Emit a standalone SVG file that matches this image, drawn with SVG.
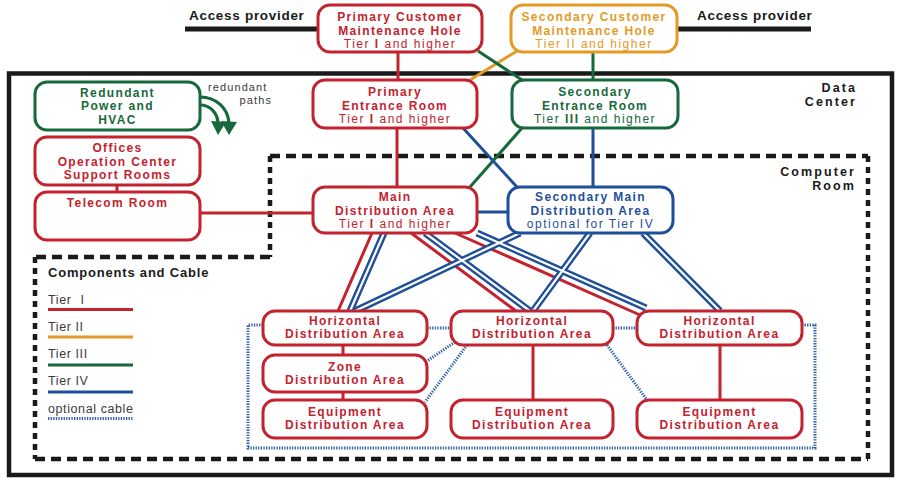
<svg xmlns="http://www.w3.org/2000/svg" width="902" height="491" viewBox="0 0 902 491">
<style>
.n rect{fill:#fff;stroke-width:3}
.r rect{stroke:#c3222f}.r text{fill:#c3222f}
.o rect{stroke:#e49a26}.o text{fill:#e49a26}
.g rect{stroke:#17693c}.g text{fill:#17693c}
.b rect{stroke:#1f4f98}.b text{fill:#1f4f98}
text{font-family:"Liberation Sans",Arial,sans-serif}
.t{font-size:12px;font-weight:bold;letter-spacing:1.35px;text-anchor:middle}
.s{font-size:12px;letter-spacing:1.5px;text-anchor:middle}
.k{font-size:13.5px;font-weight:bold;letter-spacing:0.7px;fill:#1a1a1a}
.lab{font-size:12.5px;font-weight:bold;letter-spacing:2.1px;fill:#1a1a1a;text-anchor:end}
.lg{font-size:12.5px;letter-spacing:0.6px;fill:#3a3a3a}
.sm{font-size:11px;letter-spacing:1.1px;fill:#3a3a3a}
.c1{stroke:#c3222f;stroke-width:3;fill:none}
.c2{stroke:#e49a26;stroke-width:3;fill:none}
.c3{stroke:#17693c;stroke-width:3;fill:none}
.c4{stroke:#1f4f98;stroke-width:3;fill:none}
.d4{stroke:#1f4f98;stroke-width:7;fill:none}
.dw{stroke:#fff;stroke-width:2.2;fill:none}
.op{stroke:#2b5fa8;stroke-width:3;stroke-dasharray:1.3 1.3;fill:none}
</style>
<rect width="902" height="491" fill="#fff"/>
<!-- data center boundary -->
<rect x="9" y="73.5" width="883" height="401.5" fill="none" stroke="#1a1a1a" stroke-width="4.5"/>
<!-- computer room boundary -->
<g fill="none" stroke="#1a1a1a" stroke-width="4.5">
<path d="M270,156 H868" stroke-dasharray="10 6"/>
<path d="M270,257 H35" stroke-dasharray="10 6"/>
<path d="M35,459 H868" stroke-dasharray="10 6"/>
<path d="M270,156 V257" stroke-dasharray="6 5"/>
<path d="M868,156 V459" stroke-dasharray="6 5"/>
<path d="M35,257 V459" stroke-dasharray="6 5"/>
</g>
<!-- labels -->
<text class="k" x="189" y="20">Access provider</text>
<text class="k" x="697" y="20">Access provider</text>
<path d="M185,29 H318 M677,29 H811" stroke="#1a1a1a" stroke-width="5"/>
<text class="lab" x="857" y="92">Data</text>
<text class="lab" x="857" y="106">Center</text>
<text class="lab" x="856" y="176">Computer</text>
<text class="lab" x="856" y="190">Room</text>
<text class="sm" x="208" y="91">redundant</text>
<text class="sm" x="272" y="104" text-anchor="end">paths</text>
<!-- redundant path arrows -->
<g fill="none" stroke="#17693c" stroke-width="3.2">
<path d="M200,97 C216,97 228,108 229,123"/>
<path d="M200,105 C210,105 218,113 218,124"/>
</g>
<g fill="#17693c">
<polygon points="211,121 226,122 218,135"/>
<polygon points="221,121 237,122 229,135"/>
</g>
<!-- legend -->
<g id="legend">
<text class="k" x="48" y="277" style="font-size:13px;letter-spacing:0.8px">Components and Cable</text>
<text class="lg" x="48" y="304">Tier <tspan dx="5">I</tspan></text>
<path class="c1" d="M48,309.5 H133" stroke-width="3.5"/>
<text class="lg" x="48" y="331">Tier II</text>
<path class="c2" d="M48,337 H133" stroke-width="3.5"/>
<text class="lg" x="48" y="358">Tier III</text>
<path class="c3" d="M48,365 H133" stroke-width="3.5"/>
<text class="lg" x="48" y="385">Tier IV</text>
<path class="c4" d="M48,392 H133" stroke-width="3.5"/>
<text class="lg" x="48" y="413">optional cable</text>
<path class="op" d="M48,418.5 H133"/>
</g>
<!-- connectors -->
<g id="connectors">
<path class="c1" d="M398,52 V80 M397,128 V187 M200,213 H313 M117,185 V192 M343,345 V355 M343,392 V400 M533,345 V400 M720,345 V400"/>
<path class="c1" d="M372,233 L338,311 M411,233 L516,311 M455,233 L640,315"/>
<path class="c2" d="M517,51 L470,80"/>
<path class="c3" d="M478,51 L522,80 M593,52 V80 M522,128 L470,187"/>
<path class="c4" d="M463,128 L517,187 M593,128 V187 M477,212 H508"/>
<path class="d4" d="M384,233 L350,311 M425,233 L530,311 M477,233 L646,308 M520,233 L355,311 M590,233 L533,311 M643,233 L720,311"/>
<path class="dw" d="M384,233 L350,311 M425,233 L530,311 M477,233 L646,308 M520,233 L355,311 M590,233 L533,311 M643,233 L720,311"/>
<path class="op" d="M427,328 H451 M613,328 H637 M455,342 L427,361 M467,345 L425,402 M607,345 L647,400 M263,325 H248 V448 H815 V325 H802"/>
</g>
<!-- nodes -->
<g id="pcmh" class="n r"><rect x="318" y="5" width="164" height="47" rx="12"/>
<text class="t" x="400" y="21">Primary Customer</text><text class="t" x="400" y="34.5">Maintenance Hole</text>
<text class="s" x="400" y="48">Tier <tspan font-weight="bold">I</tspan> and higher</text></g>
<g id="scmh" class="n o"><rect x="511" y="5" width="166" height="47" rx="12"/>
<text class="t" x="594" y="21">Secondary Customer</text><text class="t" x="594" y="34.5">Maintenance Hole</text>
<text class="s" x="594" y="48">Tier II and higher</text></g>
<g id="per" class="n r"><rect x="313" y="80" width="164" height="48" rx="12"/>
<text class="t" x="395" y="96">Primary</text><text class="t" x="395" y="109.5">Entrance Room</text>
<text class="s" x="395" y="123">Tier <tspan font-weight="bold">I</tspan> and higher</text></g>
<g id="ser" class="n g"><rect x="512" y="80" width="166" height="48" rx="12"/>
<text class="t" x="595" y="96">Secondary</text><text class="t" x="595" y="109.5">Entrance Room</text>
<text class="s" x="595" y="123">Tier <tspan font-weight="bold">III</tspan> and higher</text></g>
<g id="mda" class="n r"><rect x="313" y="187" width="164" height="46" rx="12"/>
<text class="t" x="395" y="201">Main</text><text class="t" x="395" y="214.5">Distribution Area</text>
<text class="s" x="395" y="228">Tier <tspan font-weight="bold">I</tspan> and higher</text></g>
<g id="smda" class="n b"><rect x="508" y="187" width="165" height="46" rx="12"/>
<text class="t" x="590.5" y="201">Secondary Main</text><text class="t" x="590.5" y="214.5">Distribution Area</text>
<text class="s" x="590.5" y="228">optional for Tier IV</text></g>
<g id="rph" class="n g"><rect x="35" y="82" width="165" height="48" rx="12"/>
<text class="t" x="117.5" y="96.5">Redundant</text><text class="t" x="117.5" y="110">Power and</text><text class="t" x="117.5" y="123.5">HVAC</text></g>
<g id="offices" class="n r"><rect x="35" y="137" width="165" height="48" rx="12"/>
<text class="t" x="117.5" y="152">Offices</text><text class="t" x="117.5" y="165.5">Operation Center</text><text class="t" x="117.5" y="179">Support Rooms</text></g>
<g id="telecom" class="n r"><rect x="35" y="192" width="165" height="48" rx="12"/>
<text class="t" x="117.5" y="207">Telecom Room</text></g>
<g id="hda1" class="n r"><rect x="263" y="311" width="164" height="34" rx="12"/>
<text class="t" x="345" y="324.5">Horizontal</text><text class="t" x="345" y="338">Distribution Area</text></g>
<g id="hda2" class="n r"><rect x="451" y="311" width="162" height="34" rx="12"/>
<text class="t" x="532" y="324.5">Horizontal</text><text class="t" x="532" y="338">Distribution Area</text></g>
<g id="hda3" class="n r"><rect x="637" y="311" width="165" height="34" rx="12"/>
<text class="t" x="719.5" y="324.5">Horizontal</text><text class="t" x="719.5" y="338">Distribution Area</text></g>
<g id="zda" class="n r"><rect x="263" y="355" width="164" height="37" rx="12"/>
<text class="t" x="345" y="370.5">Zone</text><text class="t" x="345" y="384">Distribution Area</text></g>
<g id="eda1" class="n r"><rect x="263" y="400" width="164" height="38" rx="12"/>
<text class="t" x="345" y="415.5">Equipment</text><text class="t" x="345" y="429">Distribution Area</text></g>
<g id="eda2" class="n r"><rect x="451" y="400" width="162" height="38" rx="12"/>
<text class="t" x="532" y="415.5">Equipment</text><text class="t" x="532" y="429">Distribution Area</text></g>
<g id="eda3" class="n r"><rect x="637" y="400" width="165" height="38" rx="12"/>
<text class="t" x="719.5" y="415.5">Equipment</text><text class="t" x="719.5" y="429">Distribution Area</text></g>
</svg>
